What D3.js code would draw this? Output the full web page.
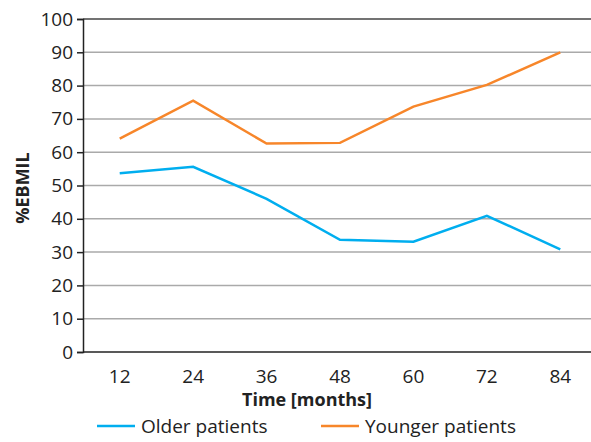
<!DOCTYPE html>
<html>
<head>
<meta charset="utf-8">
<script src="https://cdn.jsdelivr.net/npm/d3@7"></script>
<style>
  body { margin: 0; background: #fff; }
  svg text { font-family: "Open Sans", sans-serif; fill: #222; }
</style>
</head>
<body>
<div id="chart"></div>
<script>
const months = ['12', '24', '36', '48', '60', '72', '84'];
const older = [53.7, 55.6, 46.0, 33.7, 33.1, 40.9, 30.8];
const younger = [64.1, 75.5, 62.6, 62.8, 73.7, 80.2, 90.0];
const yTicks = [0, 10, 20, 30, 40, 50, 60, 70, 80, 90, 100];
const seriesNames = ['Older patients', 'Younger patients'];
const colors = ['#00aeef', '#f7862a'];

const width = 591, height = 442, margin = {top: 19, right: -6, bottom: 90, left: 83};

const svg = d3.select('#chart').append('svg').attr('width', width).attr('height', height);

const x = d3.scaleBand().domain(months).range([margin.left, width - margin.right]);
const y = d3.scaleLinear().domain([0, 100]).range([height - margin.bottom, margin.top]);

// gridlines
svg.append('g').selectAll('line').data(yTicks.filter(d => d > 0 && d < 100)).join('line')
  .attr('x1', margin.left).attr('x2', width)
  .attr('y1', d => y(d)).attr('y2', d => y(d))
  .attr('stroke', '#aaa').attr('stroke-width', 1.5);

// top border
svg.append('line')
  .attr('x1', margin.left).attr('x2', width)
  .attr('y1', y(100)).attr('y2', y(100))
  .attr('stroke', '#444').attr('stroke-width', 1.5);

const yAxis = svg.append('g').attr('transform', `translate(${margin.left},0)`)
  .call(d3.axisLeft(y).tickValues(yTicks).tickSize(6).tickPadding(4));
yAxis.select('.domain').attr('stroke', '#222').attr('stroke-width', 1.5);
yAxis.selectAll('.tick line').attr('stroke', '#222').attr('stroke-width', 1.5);
yAxis.selectAll('text').style('font-size', '19px').style('font-family', '"Open Sans", sans-serif').attr('fill', '#222');

const xAxis = svg.append('g').attr('transform', `translate(0,${y(0)})`)
  .call(d3.axisBottom(x).tickSize(0).tickPadding(18));
xAxis.select('.domain').attr('stroke', '#222').attr('stroke-width', 1.5).attr('d', `M${margin.left},0H${width}`);
xAxis.selectAll('text').style('font-size', '19px').style('font-family', '"Open Sans", sans-serif').attr('fill', '#222');

const line = d3.line().x((d, i) => x(months[i]) + x.bandwidth() / 2).y(d => y(d));

[older, younger].forEach((s, i) => {
  svg.append('path').datum(s).attr('d', line)
    .attr('fill', 'none').attr('stroke', colors[i]).attr('stroke-width', 2.5);
});

// axis titles
svg.append('text').attr('x', 307).attr('y', 406).attr('text-anchor', 'middle')
  .style('font-size', '18px').style('font-weight', 'bold').text('Time [months]');
svg.append('text').attr('transform', `translate(29,188) rotate(-90)`)
  .attr('text-anchor', 'middle').style('font-size', '18px').style('font-weight', 'bold').text('%EBMIL');

// legend
const legendX = [97, 321];
seriesNames.forEach((n, i) => {
  const g = svg.append('g').attr('transform', `translate(${legendX[i]},426)`);
  g.append('line').attr('x1', 0).attr('x2', 38).attr('stroke', colors[i]).attr('stroke-width', 2.5);
  g.append('text').attr('x', 44).attr('y', 7).style('font-size', '19px').text(n);
});
</script>
</body>
</html>
